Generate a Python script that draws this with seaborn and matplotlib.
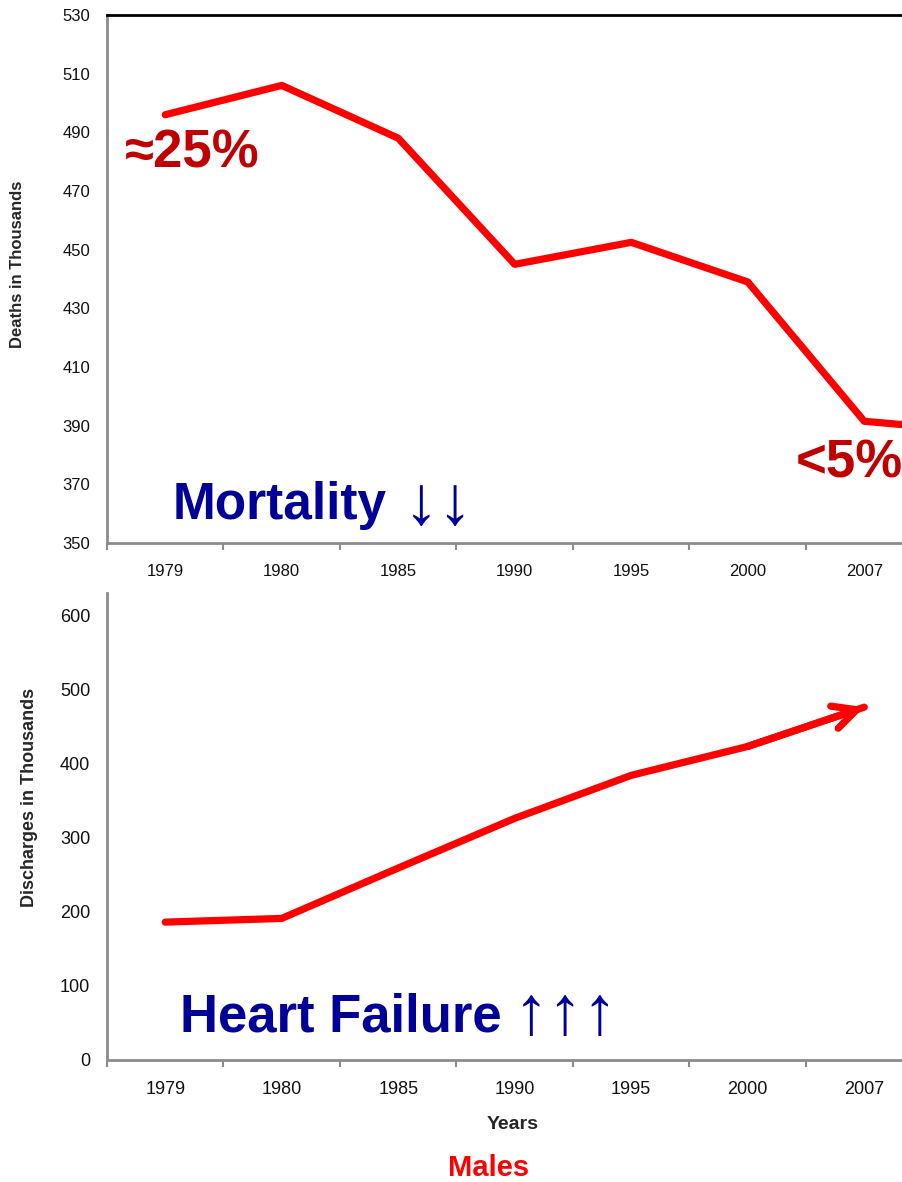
import numpy as np
import pandas as pd
import matplotlib
matplotlib.use("Agg")
import matplotlib.pyplot as plt
from matplotlib.ticker import FixedLocator, NullFormatter
import seaborn as sns

# values (thousands)
years = ["1979", "1980", "1985", "1990", "1995", "2000", "2007"]
# last mortality point lies beyond the cropped right edge of the slide
deaths = [496, 506, 488, 445, 452.5, 439, 391.5, 388]
discharges = [186, 191, 259, 326, 384, 423, 476]
mortality_ticks = list(range(350, 531, 20))
discharge_ticks = list(range(0, 601, 100))

sns.set_theme(style="white")
plt.rcParams["font.family"] = ["Liberation Sans", "DejaVu Sans"]

W, H = 903, 1182
fig = plt.figure(figsize=(W / 100, H / 100), dpi=100)
fig.patch.set_facecolor("white")

# axes placed in pixel terms; right side runs past the canvas like the crop
n_slots = len(deaths)
left, width = 107, 116.5 * n_slots
ax1 = fig.add_axes([left / W, 1 - 543 / H, width / W, (543 - 15) / H])
ax2 = fig.add_axes([left / W, 1 - 1060 / H, width / W, (1060 - 593) / H])

df1 = pd.DataFrame({"pos": np.arange(len(deaths)), "val": deaths})
df2 = pd.DataFrame({"pos": np.arange(len(discharges)), "val": discharges})

sns.lineplot(data=df1, x="pos", y="val", ax=ax1, color="#ff0000", linewidth=5.2)
sns.lineplot(data=df2, x="pos", y="val", ax=ax2, color="#ff0000", linewidth=5.2)
ax2.annotate("", xy=(len(discharges) - 1, discharges[-1]),
             xytext=(len(discharges) - 2, discharges[-2]),
             arrowprops=dict(arrowstyle="->", color="#ff0000", lw=5.2,
                             mutation_scale=42, shrinkA=0, shrinkB=0,
                             capstyle="round"))

ax1.set_ylim(350, 530)
ax2.set_ylim(0, 630)
ax1.set_yticks(mortality_ticks)
ax2.set_yticks(discharge_ticks)

labels = years + [""] * (n_slots - len(years))
for ax, fs in ((ax1, 12), (ax2, 13)):
    ax.set_xlim(-0.5, n_slots - 0.5)
    ax.set_xticks(np.arange(n_slots))
    ax.set_xticklabels(labels)
    ax.xaxis.set_minor_locator(FixedLocator(np.arange(n_slots + 1) - 0.5))
    ax.xaxis.set_minor_formatter(NullFormatter())
    ax.tick_params(axis="x", which="major", length=0, pad=15, labelsize=fs,
                   labelcolor="#111111")
    ax.tick_params(axis="x", which="minor", bottom=True, length=5, width=1.5,
                   color="#8c8c8c", direction="out")
    ax.tick_params(axis="y", length=0, pad=12, labelsize=fs, labelcolor="#111111")
    ax.set_xlabel("")
    ax.set_ylabel("")
    for s in ("left", "bottom"):
        ax.spines[s].set_color("#8c8c8c")
        ax.spines[s].set_linewidth(2)
    ax.spines["right"].set_visible(False)
    ax.grid(False)

ax1.spines["top"].set_color("black")
ax1.spines["top"].set_linewidth(2)
ax2.spines["top"].set_visible(False)

ax1.set_ylabel("Deaths in Thousands", fontsize=12, fontweight="bold")
ax1.yaxis.set_label_coords((25 - left) / width, (543 - 264) / 528)
ax2.set_ylabel("Discharges in Thousands", fontsize=13, fontweight="bold")
ax2.yaxis.set_label_coords((38 - left) / width, (1060 - 797) / 467)
ax2.set_xlabel("Years", fontsize=14, fontweight="bold")
ax2.xaxis.set_label_coords((513 - left) / width, (1060 - 1116) / 467)


def px(ax, x, y, bottom, height):
    # pixel position -> axes fraction
    return (x - left) / width, (bottom - y) / height


# callouts
ax1.text(*px(ax1, 125, 168, 543, 528), "\u224825%", transform=ax1.transAxes,
         color="#c00000", fontsize=38, fontweight="bold", va="baseline", ha="left")
ax1.text(*px(ax1, 796, 478, 543, 528), "<5%", transform=ax1.transAxes,
         color="#c00000", fontsize=38, fontweight="bold", va="baseline", ha="left")
ax1.text(*px(ax1, 173, 519, 543, 528), "Mortality", transform=ax1.transAxes,
         color="#000099", fontsize=37, fontweight="bold", va="baseline", ha="left")
ax1.text(*px(ax1, 404, 524, 543, 528), "\u2193\u2193", transform=ax1.transAxes,
         color="#000099", fontsize=50, va="baseline", ha="left")
ax2.text(*px(ax2, 180, 1032, 1060, 467), "Heart Failure", transform=ax2.transAxes,
         color="#000099", fontsize=38, fontweight="bold", va="baseline", ha="left")
ax2.text(*px(ax2, 514, 1034, 1060, 467), "\u2191\u2191\u2191", transform=ax2.transAxes,
         color="#000099", fontsize=50, va="baseline", ha="left")

fig.text(489 / W, 1 - 1168 / H, "Males", color="#ff0000", fontsize=21,
         fontweight="bold", ha="center", va="center")

fig.savefig("out.png", dpi=100)
